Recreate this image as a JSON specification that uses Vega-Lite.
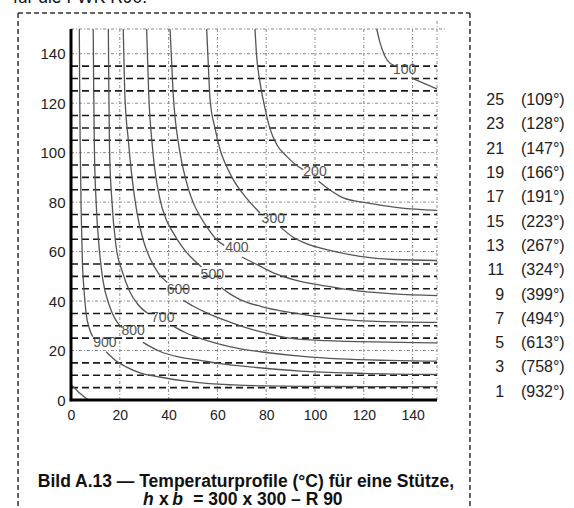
{
  "$schema": "https://vega.github.io/schema/vega-lite/v6.json",
  "width": 366,
  "height": 371,
  "autosize": "none",
  "padding": {"left": 71, "top": 29, "right": 137, "bottom": 108},
  "background": "white",
  "config": {"view": {"stroke": null}, "font": "Liberation Sans"},
  "datasets": {
    "dot": [
      {"x": 20, "y": 0, "x2": 20, "y2": 151}, {"x": 40, "y": 0, "x2": 40, "y2": 151},
      {"x": 60, "y": 0, "x2": 60, "y2": 151}, {"x": 80, "y": 0, "x2": 80, "y2": 151},
      {"x": 100, "y": 0, "x2": 100, "y2": 151}, {"x": 120, "y": 0, "x2": 120, "y2": 151},
      {"x": 140, "y": 0, "x2": 140, "y2": 151}, {"x": 150, "y": 0, "x2": 150, "y2": 153.6},
      {"x": 0, "y": 20, "x2": 150, "y2": 20}, {"x": 0, "y": 40, "x2": 150, "y2": 40},
      {"x": 0, "y": 60, "x2": 150, "y2": 60}, {"x": 0, "y": 80, "x2": 150, "y2": 80},
      {"x": 0, "y": 100, "x2": 150, "y2": 100}, {"x": 0, "y": 120, "x2": 150, "y2": 120},
      {"x": 0, "y": 140, "x2": 150, "y2": 140}, {"x": 0, "y": 150, "x2": 154, "y2": 150}
    ],
    "dash": [
      {"x": 0, "y": 5, "x2": 150, "y2": 5}, {"x": 0, "y": 10, "x2": 150, "y2": 10}, {"x": 0, "y": 15, "x2": 150, "y2": 15},
      {"x": 0, "y": 25, "x2": 150, "y2": 25}, {"x": 0, "y": 30, "x2": 150, "y2": 30}, {"x": 0, "y": 35, "x2": 150, "y2": 35},
      {"x": 0, "y": 45, "x2": 150, "y2": 45}, {"x": 0, "y": 50, "x2": 150, "y2": 50}, {"x": 0, "y": 55, "x2": 150, "y2": 55},
      {"x": 0, "y": 65, "x2": 150, "y2": 65}, {"x": 0, "y": 70, "x2": 150, "y2": 70}, {"x": 0, "y": 75, "x2": 150, "y2": 75},
      {"x": 0, "y": 85, "x2": 150, "y2": 85}, {"x": 0, "y": 90, "x2": 150, "y2": 90}, {"x": 0, "y": 95, "x2": 150, "y2": 95},
      {"x": 0, "y": 105, "x2": 150, "y2": 105}, {"x": 0, "y": 110, "x2": 150, "y2": 110}, {"x": 0, "y": 115, "x2": 150, "y2": 115},
      {"x": 0, "y": 125, "x2": 150, "y2": 125}, {"x": 0, "y": 130, "x2": 150, "y2": 130}, {"x": 0, "y": 135, "x2": 150, "y2": 135}
    ],
    "axisline": [
      {"x": 0, "y": -0.5, "x2": 0, "y2": 150},
      {"x": -0.5, "y": 0, "x2": 150, "y2": 0}
    ],
    "frame": [
      {"x": -21.7, "y": 156.5, "x2": -21.7, "y2": -50},
      {"x": -21.7, "y": 156.5, "x2": 163.5, "y2": 156.5},
      {"x": 163.5, "y": 156.5, "x2": 163.5, "y2": -50}
    ],
    "contours": [
      {"s": "900a", "o": 1, "x": 3.4, "y": 150}, {"s": "900a", "o": 2, "x": 3.6, "y": 120}, {"s": "900a", "o": 3, "x": 3.8, "y": 100},
      {"s": "900a", "o": 4, "x": 4.2, "y": 75}, {"s": "900a", "o": 5, "x": 4.7, "y": 55}, {"s": "900a", "o": 6, "x": 5.3, "y": 45},
      {"s": "900a", "o": 7, "x": 6.2, "y": 35}, {"s": "900a", "o": 8, "x": 7.5, "y": 29}, {"s": "900a", "o": 9, "x": 8.9, "y": 25.6},
      {"s": "900b", "o": 1, "x": 14.4, "y": 19.5}, {"s": "900b", "o": 2, "x": 18, "y": 16.2}, {"s": "900b", "o": 3, "x": 22.6, "y": 13.4},
      {"s": "900b", "o": 4, "x": 28.3, "y": 11}, {"s": "900b", "o": 5, "x": 36.3, "y": 9.3}, {"s": "900b", "o": 6, "x": 47.4, "y": 7.6},
      {"s": "900b", "o": 7, "x": 56.8, "y": 6.6}, {"s": "900b", "o": 8, "x": 66.5, "y": 6.1}, {"s": "900b", "o": 9, "x": 80, "y": 5.7},
      {"s": "900b", "o": 10, "x": 100, "y": 5.5}, {"s": "900b", "o": 11, "x": 125, "y": 5.4}, {"s": "900b", "o": 12, "x": 150, "y": 5.4},

      {"s": "800a", "o": 1, "x": 9.1, "y": 150}, {"s": "800a", "o": 2, "x": 9.3, "y": 125}, {"s": "800a", "o": 3, "x": 9.6, "y": 101},
      {"s": "800a", "o": 4, "x": 10.3, "y": 80}, {"s": "800a", "o": 5, "x": 11.5, "y": 62}, {"s": "800a", "o": 6, "x": 13, "y": 49},
      {"s": "800a", "o": 7, "x": 15.8, "y": 38}, {"s": "800a", "o": 8, "x": 19.2, "y": 31.1}, {"s": "800a", "o": 9, "x": 21, "y": 29.3},
      {"s": "800b", "o": 1, "x": 29.5, "y": 23.3}, {"s": "800b", "o": 2, "x": 36.3, "y": 19.7}, {"s": "800b", "o": 3, "x": 44, "y": 17.4},
      {"s": "800b", "o": 4, "x": 52.9, "y": 16}, {"s": "800b", "o": 5, "x": 62, "y": 14.6}, {"s": "800b", "o": 6, "x": 73.3, "y": 13.4},
      {"s": "800b", "o": 7, "x": 93.9, "y": 11.7}, {"s": "800b", "o": 8, "x": 120, "y": 10.8}, {"s": "800b", "o": 9, "x": 150, "y": 10.3},

      {"s": "700a", "o": 1, "x": 15.3, "y": 150}, {"s": "700a", "o": 2, "x": 15.5, "y": 125}, {"s": "700a", "o": 3, "x": 15.8, "y": 101},
      {"s": "700a", "o": 4, "x": 16.8, "y": 80}, {"s": "700a", "o": 5, "x": 18.5, "y": 62}, {"s": "700a", "o": 6, "x": 21, "y": 52},
      {"s": "700a", "o": 7, "x": 24, "y": 44}, {"s": "700a", "o": 8, "x": 27.5, "y": 38.5}, {"s": "700a", "o": 9, "x": 31.5, "y": 35},
      {"s": "700b", "o": 1, "x": 42, "y": 29.8}, {"s": "700b", "o": 2, "x": 47, "y": 27.2}, {"s": "700b", "o": 3, "x": 52.7, "y": 25},
      {"s": "700b", "o": 4, "x": 60, "y": 22.8}, {"s": "700b", "o": 5, "x": 70, "y": 20.6}, {"s": "700b", "o": 6, "x": 80, "y": 19.2},
      {"s": "700b", "o": 7, "x": 95, "y": 17.6}, {"s": "700b", "o": 8, "x": 110, "y": 16.6}, {"s": "700b", "o": 9, "x": 130, "y": 16},
      {"s": "700b", "o": 10, "x": 150, "y": 15.7},

      {"s": "600a", "o": 1, "x": 21.4, "y": 150}, {"s": "600a", "o": 2, "x": 22, "y": 125}, {"s": "600a", "o": 3, "x": 23.5, "y": 105},
      {"s": "600a", "o": 4, "x": 25, "y": 90}, {"s": "600a", "o": 5, "x": 27, "y": 76}, {"s": "600a", "o": 6, "x": 29.5, "y": 65},
      {"s": "600a", "o": 7, "x": 32.5, "y": 57}, {"s": "600a", "o": 8, "x": 36, "y": 51}, {"s": "600a", "o": 9, "x": 39.5, "y": 47.5},
      {"s": "600b", "o": 1, "x": 46, "y": 40.3}, {"s": "600b", "o": 2, "x": 50, "y": 38}, {"s": "600b", "o": 3, "x": 55.6, "y": 35.2},
      {"s": "600b", "o": 4, "x": 66.5, "y": 31}, {"s": "600b", "o": 5, "x": 77.5, "y": 27.6}, {"s": "600b", "o": 6, "x": 91.1, "y": 24.8},
      {"s": "600b", "o": 7, "x": 105, "y": 24}, {"s": "600b", "o": 8, "x": 118.4, "y": 23.6}, {"s": "600b", "o": 9, "x": 135, "y": 23.3},
      {"s": "600b", "o": 10, "x": 150, "y": 23.1},

      {"s": "500a", "o": 1, "x": 31, "y": 150}, {"s": "500a", "o": 2, "x": 31.8, "y": 125}, {"s": "500a", "o": 3, "x": 33.5, "y": 101},
      {"s": "500a", "o": 4, "x": 36.5, "y": 81}, {"s": "500a", "o": 5, "x": 39, "y": 73}, {"s": "500a", "o": 6, "x": 41.9, "y": 67.6},
      {"s": "500a", "o": 7, "x": 45.5, "y": 62}, {"s": "500a", "o": 8, "x": 50.1, "y": 56.8}, {"s": "500a", "o": 9, "x": 53.5, "y": 53.8},
      {"s": "500b", "o": 1, "x": 61.5, "y": 45.5}, {"s": "500b", "o": 2, "x": 65, "y": 43}, {"s": "500b", "o": 3, "x": 69.3, "y": 40.6},
      {"s": "500b", "o": 4, "x": 78, "y": 37.8}, {"s": "500b", "o": 5, "x": 91.1, "y": 35.2}, {"s": "500b", "o": 6, "x": 104.8, "y": 33.2},
      {"s": "500b", "o": 7, "x": 125.3, "y": 31.8}, {"s": "500b", "o": 8, "x": 150, "y": 31.4},

      {"s": "400a", "o": 1, "x": 40.6, "y": 150}, {"s": "400a", "o": 2, "x": 41.8, "y": 125}, {"s": "400a", "o": 3, "x": 44.5, "y": 101},
      {"s": "400a", "o": 4, "x": 47.4, "y": 87.8}, {"s": "400a", "o": 5, "x": 50, "y": 80}, {"s": "400a", "o": 6, "x": 52.9, "y": 74.3},
      {"s": "400a", "o": 7, "x": 56.5, "y": 68.8}, {"s": "400a", "o": 8, "x": 59.7, "y": 64.8}, {"s": "400a", "o": 9, "x": 62.8, "y": 62.5},
      {"s": "400b", "o": 1, "x": 70, "y": 57.8}, {"s": "400b", "o": 2, "x": 77.5, "y": 54.1}, {"s": "400b", "o": 3, "x": 84, "y": 51},
      {"s": "400b", "o": 4, "x": 91.1, "y": 48.7}, {"s": "400b", "o": 5, "x": 104.8, "y": 46}, {"s": "400b", "o": 6, "x": 118.4, "y": 44},
      {"s": "400b", "o": 7, "x": 132.1, "y": 42.9}, {"s": "400b", "o": 8, "x": 150, "y": 42.2},

      {"s": "300a", "o": 1, "x": 55.6, "y": 150}, {"s": "300a", "o": 2, "x": 56.3, "y": 135}, {"s": "300a", "o": 3, "x": 57, "y": 121.4},
      {"s": "300a", "o": 4, "x": 59, "y": 110}, {"s": "300a", "o": 5, "x": 61.1, "y": 101.2}, {"s": "300a", "o": 6, "x": 63.5, "y": 95},
      {"s": "300a", "o": 7, "x": 66.5, "y": 89.1}, {"s": "300a", "o": 8, "x": 72, "y": 81.5}, {"s": "300a", "o": 9, "x": 77.5, "y": 75.6},
      {"s": "300b", "o": 1, "x": 85.6, "y": 70.1}, {"s": "300b", "o": 2, "x": 91.1, "y": 65.8}, {"s": "300b", "o": 3, "x": 97, "y": 63},
      {"s": "300b", "o": 4, "x": 104.8, "y": 60.8}, {"s": "300b", "o": 5, "x": 118.4, "y": 58.1}, {"s": "300b", "o": 6, "x": 132.1, "y": 56.8},
      {"s": "300b", "o": 7, "x": 150, "y": 56.4},

      {"s": "200a", "o": 1, "x": 75.4, "y": 150}, {"s": "200a", "o": 2, "x": 76, "y": 140}, {"s": "200a", "o": 3, "x": 77.5, "y": 128.2},
      {"s": "200a", "o": 4, "x": 79.5, "y": 118}, {"s": "200a", "o": 5, "x": 81.6, "y": 109.5}, {"s": "200a", "o": 6, "x": 84.5, "y": 103},
      {"s": "200a", "o": 7, "x": 88.4, "y": 98.5}, {"s": "200a", "o": 8, "x": 92, "y": 95.2}, {"s": "200a", "o": 9, "x": 95.2, "y": 93.1},
      {"s": "200b", "o": 1, "x": 101.5, "y": 88.5}, {"s": "200b", "o": 2, "x": 106, "y": 85}, {"s": "200b", "o": 3, "x": 111.6, "y": 81.7},
      {"s": "200b", "o": 4, "x": 121.2, "y": 79.7}, {"s": "200b", "o": 5, "x": 134.8, "y": 77.7}, {"s": "200b", "o": 6, "x": 150, "y": 76.7},

      {"s": "100a", "o": 1, "x": 125.3, "y": 150}, {"s": "100a", "o": 2, "x": 126.5, "y": 145}, {"s": "100a", "o": 3, "x": 128.7, "y": 138.9},
      {"s": "100a", "o": 4, "x": 130.7, "y": 136.2}, {"s": "100a", "o": 5, "x": 132.3, "y": 135.4},
      {"s": "100b", "o": 1, "x": 139.5, "y": 130.2}, {"s": "100b", "o": 2, "x": 144, "y": 128.3}, {"s": "100b", "o": 3, "x": 150, "y": 125.7},

      {"s": "1000", "o": 1, "x": 0, "y": 6.2}, {"s": "1000", "o": 2, "x": 1.5, "y": 4.8}, {"s": "1000", "o": 3, "x": 3.4, "y": 2.9},
      {"s": "1000", "o": 4, "x": 5, "y": 1.6}, {"s": "1000", "o": 5, "x": 7.1, "y": 0}
    ],
    "labels": [
      {"t": "900", "x": 13.9, "y": 23.2}, {"t": "800", "x": 25.5, "y": 27.8}, {"t": "700", "x": 37.6, "y": 33},
      {"t": "600", "x": 44, "y": 44.6}, {"t": "500", "x": 57.9, "y": 50.5}, {"t": "400", "x": 68, "y": 61.3},
      {"t": "300", "x": 82.9, "y": 73.2}, {"t": "200", "x": 100, "y": 92}, {"t": "100", "x": 136.7, "y": 133.5}
    ],
    "legendNum": [
      {"t": "25", "x": 177.5, "y": 121.3}, {"t": "23", "x": 177.5, "y": 111.5}, {"t": "21", "x": 177.5, "y": 101.6},
      {"t": "19", "x": 177.5, "y": 91.8}, {"t": "17", "x": 177.5, "y": 82.0}, {"t": "15", "x": 177.5, "y": 72.1},
      {"t": "13", "x": 177.5, "y": 62.3}, {"t": "11", "x": 177.5, "y": 52.5}, {"t": "9", "x": 177.5, "y": 42.6},
      {"t": "7", "x": 177.5, "y": 32.8}, {"t": "5", "x": 177.5, "y": 23.0}, {"t": "3", "x": 177.5, "y": 13.2},
      {"t": "1", "x": 177.5, "y": 3.4}
    ],
    "legendTemp": [
      {"t": "(109°)", "x": 184.4, "y": 121.3}, {"t": "(128°)", "x": 184.4, "y": 111.5}, {"t": "(147°)", "x": 184.4, "y": 101.6},
      {"t": "(166°)", "x": 184.4, "y": 91.8}, {"t": "(191°)", "x": 184.4, "y": 82.0}, {"t": "(223°)", "x": 184.4, "y": 72.1},
      {"t": "(267°)", "x": 184.4, "y": 62.3}, {"t": "(324°)", "x": 184.4, "y": 52.5}, {"t": "(399°)", "x": 184.4, "y": 42.6},
      {"t": "(494°)", "x": 184.4, "y": 32.8}, {"t": "(613°)", "x": 184.4, "y": 23.0}, {"t": "(758°)", "x": 184.4, "y": 13.2},
      {"t": "(932°)", "x": 184.4, "y": 3.4}
    ],
    "caption": [
      {"t": "Bild A.13 — Temperaturprofile (°C) für eine Stütze,", "x": 71.7, "y": -35.0}
    ],
    "captionLeft": [
      {"t": "x", "x": 36.1, "y": -42.3},
      {"t": "= 300 x 300 – R 90", "x": 50.1, "y": -42.3}
    ],
    "captionItalic": [
      {"t": "h", "x": 29.5, "y": -42.3},
      {"t": "b", "x": 41.5, "y": -42.3}
    ],
    "topcut": [
      {"t": "für die FWK R90.", "x": -23.8, "y": 160.6}
    ]
  },
  "encoding": {
    "x": {"field": "x", "type": "quantitative", "scale": {"domain": [0, 150], "nice": false, "zero": false},
      "axis": {"values": [0, 20, 40, 60, 80, 100, 120, 140], "title": null, "ticks": false, "domain": false, "grid": false,
        "labelFontSize": 14, "labelColor": "#222", "labelPadding": 8, "labelFont": "Liberation Sans", "labelFlush": false}},
    "y": {"field": "y", "type": "quantitative", "scale": {"domain": [0, 150], "nice": false, "zero": false},
      "axis": {"values": [0, 20, 40, 60, 80, 100, 120, 140], "title": null, "ticks": false, "domain": false, "grid": false,
        "labelFontSize": 15, "labelColor": "#222", "labelPadding": 6, "labelFont": "Liberation Sans", "labelFlush": false}}
  },
  "layer": [
    {"data": {"name": "dot"}, "mark": {"type": "rule", "color": "#8a8a8a", "strokeWidth": 1, "strokeDash": [3, 2, 1, 2]},
      "encoding": {"x2": {"field": "x2"}, "y2": {"field": "y2"}}},
    {"data": {"name": "dash"}, "mark": {"type": "rule", "color": "#1a1a1a", "strokeWidth": 1.6, "strokeDash": [7, 4]},
      "encoding": {"x2": {"field": "x2"}, "y2": {"field": "y2"}}},
    {"data": {"name": "contours"}, "mark": {"type": "line", "color": "#555555", "strokeWidth": 1.3, "interpolate": "monotone"},
      "encoding": {"detail": {"field": "s"}, "order": {"field": "o", "type": "quantitative"}}},
    {"data": {"name": "labels"}, "mark": {"type": "text", "fontSize": 14, "color": "#555555", "align": "center", "baseline": "middle"},
      "encoding": {"text": {"field": "t"}}},
    {"data": {"name": "axisline"}, "mark": {"type": "rule", "color": "#000000", "strokeWidth": 3},
      "encoding": {"x2": {"field": "x2"}, "y2": {"field": "y2"}}},
    {"data": {"name": "frame"}, "mark": {"type": "rule", "color": "#333333", "strokeWidth": 1.5, "strokeDash": [5, 3]},
      "encoding": {"x2": {"field": "x2"}, "y2": {"field": "y2"}}},
    {"data": {"name": "legendNum"}, "mark": {"type": "text", "fontSize": 16, "color": "#222", "align": "right", "baseline": "middle"},
      "encoding": {"text": {"field": "t"}}},
    {"data": {"name": "legendTemp"}, "mark": {"type": "text", "fontSize": 16, "color": "#222", "align": "left", "baseline": "middle"},
      "encoding": {"text": {"field": "t"}}},
    {"data": {"name": "caption"}, "mark": {"type": "text", "fontSize": 17.5, "fontWeight": "bold", "color": "#111", "align": "center", "baseline": "alphabetic"},
      "encoding": {"text": {"field": "t"}}},
    {"data": {"name": "captionLeft"}, "mark": {"type": "text", "fontSize": 17.5, "fontWeight": "bold", "color": "#111", "align": "left", "baseline": "alphabetic"},
      "encoding": {"text": {"field": "t"}}},
    {"data": {"name": "captionItalic"}, "mark": {"type": "text", "fontSize": 17.5, "fontWeight": "bold", "fontStyle": "italic", "color": "#111", "align": "left", "baseline": "alphabetic"},
      "encoding": {"text": {"field": "t"}}},
    {"data": {"name": "topcut"}, "mark": {"type": "text", "fontSize": 17.5, "color": "#111", "align": "left", "baseline": "alphabetic"},
      "encoding": {"text": {"field": "t"}}}
  ]
}
